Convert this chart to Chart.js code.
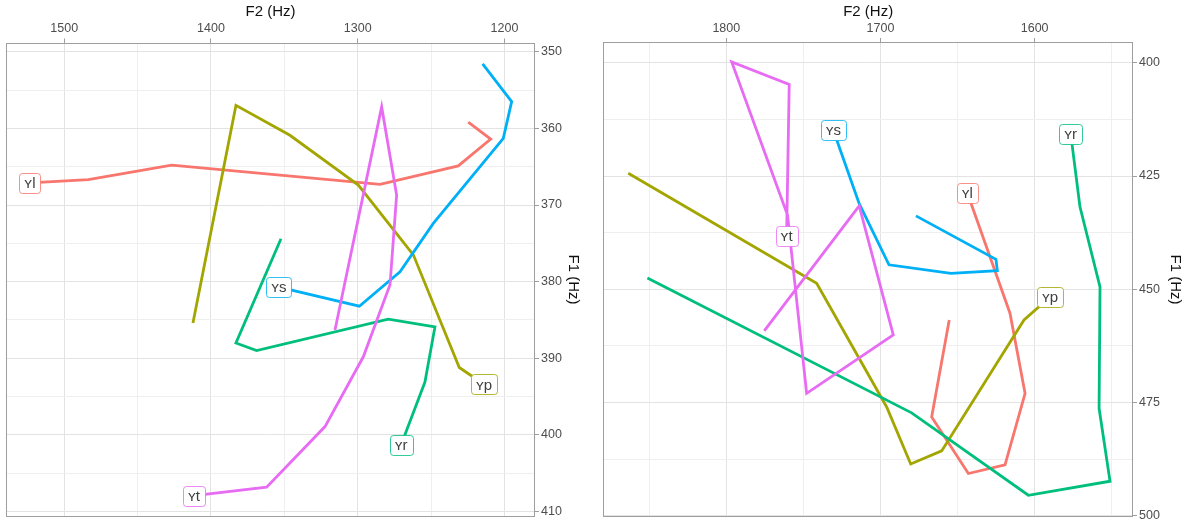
<!DOCTYPE html>
<html>
<head>
<meta charset="utf-8">
<script src="https://cdn.jsdelivr.net/npm/chart.js@4.4.1/dist/chart.umd.min.js"></script>
<style>
  html, body { margin: 0; padding: 0; background: #ffffff; }
  #wrap { position: relative; width: 1192px; height: 530px; }
  .panel { position: absolute; top: 0; width: 596px; height: 530px; }
</style>
</head>
<body>
<div id="wrap">
  <div class="panel" style="left:0"><canvas id="leftPanel" width="596" height="530"></canvas></div>
  <div class="panel" style="left:596px"><canvas id="rightPanel" width="596" height="530"></canvas></div>
</div>
<script>
// Vowel categories (one trajectory each)
const vowels = ['ʏl', 'ʏp', 'ʏr', 'ʏs', 'ʏt'];

// Left panel: formant trajectories, F2 and F1 in Hz
const leftF2_yl = [1523.4, 1483.6, 1426.8, 1284.8, 1231.5, 1209.4, 1224.7];
const leftF1_yl = [367.1, 366.7, 364.8, 367.3, 364.9, 361.4, 359.2];
const leftF2_yp = [1213.9, 1230.8, 1262.1, 1299.6, 1346.2, 1383.0, 1412.3];
const leftF1_yp = [393.4, 391.2, 376.5, 367.4, 360.9, 357.0, 385.4];
const leftF2_yr = [1270.5, 1254.2, 1247.4, 1279.2, 1368.9, 1383.0, 1352.3];
const leftF1_yr = [401.3, 393.1, 385.9, 384.9, 389.0, 388.0, 374.4];
const leftF2_ys = [1353.7, 1298.9, 1271.2, 1248.5, 1200.8, 1195.1, 1214.9];
const leftF1_ys = [380.7, 383.2, 378.7, 372.4, 361.3, 356.5, 351.6];
const leftF2_yt = [1411.6, 1362.1, 1322.3, 1296.2, 1278.0, 1273.5, 1283.7, 1315.5];
const leftF1_yt = [407.9, 406.8, 398.9, 389.8, 380.4, 368.7, 357.2, 386.3];

// Right panel: formant trajectories, F2 and F1 in Hz
const rightF2_yl = [1643.7, 1616.0, 1606.2, 1619.2, 1643.0, 1666.8, 1655.4];
const rightF1_yl = [428.7, 455.3, 473.0, 488.8, 490.7, 478.2, 456.8];
const rightF2_yp = [1590.0, 1606.9, 1660.3, 1680.4, 1696.0, 1741.4, 1863.6];
const rightF1_yp = [451.7, 456.8, 485.7, 488.6, 476.0, 448.7, 424.4];
const rightF2_yr = [1576.6, 1570.6, 1557.6, 1558.2, 1551.1, 1604.1, 1679.8, 1851.2];
const rightF1_yr = [415.7, 431.8, 449.5, 476.3, 492.4, 495.5, 477.3, 447.5];
const rightF2_ys = [1730.6, 1713.8, 1694.5, 1654.3, 1624.2, 1625.1, 1677.0];
const rightF1_ys = [414.9, 431.1, 444.6, 446.5, 445.9, 443.4, 433.8];
const rightF2_yt = [1760.9, 1759.2, 1796.5, 1760.3, 1747.9, 1691.7, 1713.8, 1775.4];
const rightF1_yt = [438.3, 404.8, 399.8, 433.6, 473.0, 460.1, 431.6, 459.2];

// Axis tick labels (major) and minor grid positions
const leftF2Ticks = [1200, 1300, 1400, 1500];
const leftF2Minor = [1250, 1350, 1450];
const leftF1Ticks = [350, 360, 370, 380, 390, 400, 410];
const leftF1Minor = [355, 365, 375, 385, 395, 405];
const rightF2Ticks = [1600, 1700, 1800];
const rightF2Minor = [1550, 1650, 1750, 1850];
const rightF1Ticks = [400, 425, 450, 475, 500];
const rightF1Minor = [412.5, 437.5, 462.5, 487.5];

// ggplot-style hue palette
const palette = ['#F8766D', '#A3A500', '#00BF7D', '#00B0F6', '#E76BF3'];

const FONT = '"Liberation Sans", Arial, "DejaVu Sans", sans-serif';

function zipPoints(f2, f1) {
  return f2.map((v, i) => ({ x: v, y: f1[i] }));
}

function makeDatasets(f2s, f1s) {
  return vowels.map((v, i) => ({
    label: v,
    data: zipPoints(f2s[i], f1s[i]),
    showLine: true,
    borderColor: palette[i],
    backgroundColor: palette[i],
    borderWidth: 2.8,
    pointRadius: 0,
    tension: 0,
    order: vowels.length - i
  }));
}

// Panel frame around the plotting area
const framePlugin = {
  id: 'panelFrame',
  beforeDatasetsDraw(chart) {
    const { ctx, chartArea: a } = chart;
    ctx.save();
    ctx.strokeStyle = '#9e9e9e';
    ctx.lineWidth = 1;
    ctx.strokeRect(Math.round(a.left) + 0.5, Math.round(a.top) + 0.5,
                   Math.round(a.right - a.left) - 1, Math.round(a.bottom - a.top) - 1);
    ctx.restore();
  }
};

// Boxed vowel labels at the start of each trajectory
const labelPlugin = {
  id: 'trajLabels',
  afterDatasetsDraw(chart, args, opts) {
    const ctx = chart.ctx;
    chart.data.datasets.forEach((ds, i) => {
      const meta = chart.getDatasetMeta(i);
      const p = meta.data[0];
      const nudge = (opts.nudges && opts.nudges[i]) || [0, 0];
      const x = p.x + nudge[0];
      const y = p.y + nudge[1];
      ctx.save();
      ctx.font = '15px ' + FONT;
      const w = ctx.measureText(ds.label).width + 10;
      const h = 20;
      ctx.beginPath();
      ctx.roundRect(Math.round(x - w / 2) + 0.5, Math.round(y - h / 2) + 0.5, Math.round(w), h, 3);
      ctx.fillStyle = '#ffffff';
      ctx.fill();
      ctx.lineWidth = 1;
      ctx.globalAlpha = 0.8;
      ctx.strokeStyle = ds.borderColor;
      ctx.stroke();
      ctx.globalAlpha = 1;
      ctx.fillStyle = '#404040';
      ctx.textAlign = 'center';
      ctx.textBaseline = 'middle';
      ctx.fillText(ds.label, x, y + 1);
      ctx.restore();
    });
  }
};

function axisCommon(major, minor, min, max) {
  const all = major.concat(minor).sort((a, b) => a - b);
  const isMajor = v => major.indexOf(v) !== -1;
  return {
    type: 'linear',
    reverse: true,
    min: min,
    max: max,
    afterBuildTicks: s => { s.ticks = all.map(v => ({ value: v })); },
    ticks: {
      autoSkip: false,
      maxRotation: 0,
      minRotation: 0,
      padding: 2,
      color: '#4d4d4d',
      font: { family: FONT, size: 12.5 },
      callback: v => (isMajor(v) ? String(v) : '')
    },
    grid: {
      drawOnChartArea: true,
      drawTicks: true,
      tickLength: 4,
      lineWidth: 1,
      color: c => (c.tick && isMajor(c.tick.value) ? '#e3e3e3' : '#efefef'),
      tickColor: c => (c.tick && isMajor(c.tick.value) ? '#9e9e9e' : 'rgba(0,0,0,0)')
    },
    border: { display: false }
  };
}

function buildChart(canvasId, f2s, f1s, cfg) {
  const xAxis = axisCommon(cfg.xMajor, cfg.xMinor, cfg.xMin, cfg.xMax);
  xAxis.position = 'top';
  xAxis.title = { display: true, text: 'F2 (Hz)', color: '#111', font: { family: FONT, size: 15 }, padding: { top: 3, bottom: 0 } };
  xAxis.afterFit = s => { s.height = cfg.topH; };

  const yAxis = axisCommon(cfg.yMajor, cfg.yMinor, cfg.yMin, cfg.yMax);
  yAxis.position = 'right';
  yAxis.title = { display: true, text: 'F1 (Hz)', color: '#111', font: { family: FONT, size: 15 }, padding: { top: cfg.yTitlePad, bottom: 0 } };
  yAxis.afterFit = s => { s.width = cfg.rightW; };

  return new Chart(document.getElementById(canvasId), {
    type: 'scatter',
    data: { datasets: makeDatasets(f2s, f1s) },
    options: {
      responsive: false,
      animation: false,
      layout: { padding: { left: cfg.padL, right: 0, top: 0, bottom: cfg.padB } },
      scales: { x: xAxis, y: yAxis },
      plugins: {
        legend: { display: false },
        tooltip: { enabled: false },
        trajLabels: { nudges: cfg.nudges }
      }
    },
    plugins: [framePlugin, labelPlugin]
  });
}

buildChart('leftPanel',
  [leftF2_yl, leftF2_yp, leftF2_yr, leftF2_ys, leftF2_yt],
  [leftF1_yl, leftF1_yp, leftF1_yr, leftF1_ys, leftF1_yt],
  {
    xMajor: leftF2Ticks, xMinor: leftF2Minor, xMin: 1179.2, xMax: 1539.7,
    yMajor: leftF1Ticks, yMinor: leftF1Minor, yMin: 348.8, yMax: 410.66,
    topH: 42.5, rightW: 61, padL: 6, padB: 13.3, yTitlePad: 14,
    nudges: [[0, 0], [0, 0], [0, 0], [0, 0], [0, 0]]
  });

buildChart('rightPanel',
  [rightF2_yl, rightF2_yp, rightF2_yr, rightF2_ys, rightF2_yt],
  [rightF1_yl, rightF1_yp, rightF1_yr, rightF1_ys, rightF1_yt],
  {
    xMajor: rightF2Ticks, xMinor: rightF2Minor, xMin: 1536.2, xMax: 1879.8,
    yMajor: rightF1Ticks, yMinor: rightF1Minor, yMin: 395.4, yMax: 500.3,
    topH: 42, rightW: 59, padL: 7.3, padB: 13, yTitlePad: 8,
    nudges: [[0, 0], [0, 0], [0, 0], [0, 0], [0, 0]]
  });
</script>
</body>
</html>
